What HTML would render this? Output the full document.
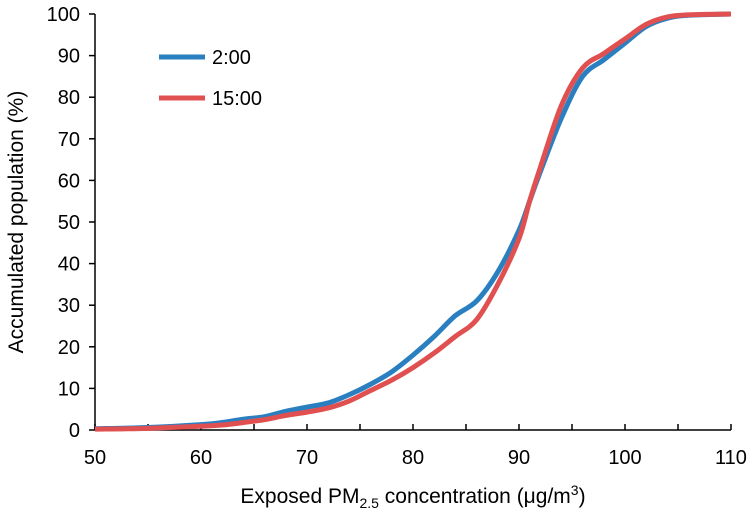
<!DOCTYPE html>
<html><head><meta charset="utf-8"><style>
body{margin:0;background:#fff;}
svg{display:block;font-family:"Liberation Sans",Arial,sans-serif;}
</style></head><body>
<svg id="chart" width="752" height="513"></svg>
<script>
const xTicks=[50,60,70,80,90,100,110];
const yTicks=[0,10,20,30,40,50,60,70,80,90,100];
const xValues=[50,55,60,62,64,66,68,70,72,74,76,78,80,82,84,86,88,90,91,92,94,96,98,100,102,104,106,110];
const blueValues=[0.3,0.6,1.3,1.8,2.6,3.2,4.5,5.5,6.5,8.5,11,14,18,22.5,27.5,31,38,48,55,62,75,85,89,93,97,99,99.7,100];
const redValues=[0.2,0.4,0.9,1.2,1.8,2.5,3.5,4.3,5.3,7,9.5,12,15,18.5,22.5,26.5,35,46,55,63,78,87,90.5,94,97.5,99.3,99.8,100];
const NS="http://www.w3.org/2000/svg";
const svg=document.getElementById('chart');
const X=v=>95+(v-50)*(731-95)/60;
const Y=v=>430-v*(430-14)/100;
function mk(t,a,p){const e=document.createElementNS(NS,t);for(const k in a)e.setAttribute(k,a[k]);(p||svg).appendChild(e);return e;}
function smooth(xs,ys){const p=xs.map((x,i)=>[X(x),Y(ys[i])]);let d=`M${p[0][0]},${p[0][1]}`;
for(let i=0;i<p.length-1;i++){const p0=p[i-1]||p[i],p1=p[i],p2=p[i+1],p3=p[i+2]||p2;
d+=` C${p1[0]+(p2[0]-p0[0])/6},${p1[1]+(p2[1]-p0[1])/6} ${p2[0]-(p3[0]-p1[0])/6},${p2[1]-(p3[1]-p1[1])/6} ${p2[0]},${p2[1]}`;}return d;}
let ax=mk('line',{x1:95,y1:430,x2:731,y2:430,stroke:'#000','stroke-width':1.5});

let ay=mk('line',{x1:95,y1:14,x2:95,y2:430,stroke:'#000','stroke-width':1.5});

for(let v=50;v<=110;v+=5){mk('line',{x1:X(v),y1:430,x2:X(v),y2:424,stroke:'#000','stroke-width':1.5});}
xTicks.forEach(v=>{const t=mk('text',{x:X(v),y:464,'text-anchor':'middle','font-size':20,fill:'#000'});t.textContent=v;
});
yTicks.forEach(v=>{mk('line',{x1:89,y1:Y(v),x2:95,y2:Y(v),stroke:'#000','stroke-width':1.5});
const t=mk('text',{x:80,y:Y(v)+7,'text-anchor':'end','font-size':20,fill:'#000'});t.textContent=v;
});
const xt=mk('text',{x:413,y:503,'text-anchor':'middle','font-size':21,fill:'#000'});
xt.innerHTML='Exposed PM<tspan font-size="14" dy="5">2.5</tspan><tspan dy="-5"> concentration (μg/m</tspan><tspan font-size="14" dy="-8">3</tspan><tspan dy="8">)</tspan>';

const yt=mk('text',{x:0,y:0,'text-anchor':'middle','font-size':21,fill:'#000',transform:'translate(23,222) rotate(-90)'});
yt.textContent='Accumulated population (%)';

const lb=mk('path',{d:smooth(xValues,blueValues),fill:'none',stroke:'#2a7fc1','stroke-width':5,'stroke-linejoin':'round'});

const lr=mk('path',{d:smooth(xValues,redValues),fill:'none',stroke:'#e05050','stroke-width':5,'stroke-linejoin':'round'});

const g1=mk('g',{});
mk('line',{x1:159,y1:57,x2:205,y2:57,stroke:'#2a7fc1','stroke-width':5},g1);
mk('text',{x:212,y:64,'font-size':20,fill:'#000'},g1).textContent='2:00';
const g2=mk('g',{});
mk('line',{x1:159,y1:98,x2:205,y2:98,stroke:'#e05050','stroke-width':5},g2);
mk('text',{x:212,y:105,'font-size':20,fill:'#000'},g2).textContent='15:00';
</script>
</body></html>
